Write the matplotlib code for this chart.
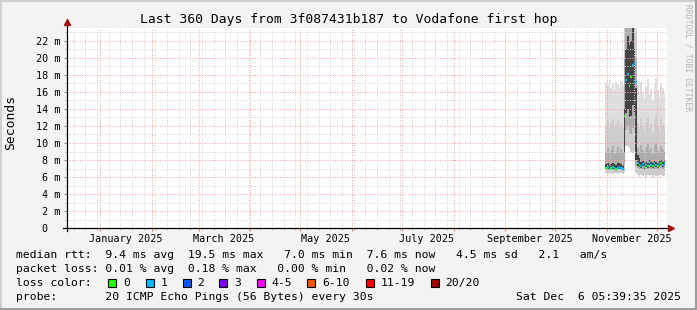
import numpy as np
import matplotlib
matplotlib.use("Agg")
import matplotlib.pyplot as plt
import matplotlib.dates as mdates
from matplotlib.patches import Rectangle
import datetime as dt

W, H = 697, 310

# giorni con dati: dal 31 ottobre al 5 dicembre 2025 (valori in ms)
giorni = np.arange(np.datetime64('2025-10-31'), np.datetime64('2025-12-06'))

mediana = [7.1, 7.2, 7.0, 7.1, 7.2, 7.1, 7.0, 7.1, 7.2, 7.1, 7.0,
           13.2, 17.4, 18.1, 16.7, 17.7, 19.2, 19.4, 17.2,
           7.6, 7.4, 7.3, 7.5, 7.2, 7.4, 7.3, 7.6, 7.4, 7.3, 7.5, 7.4, 7.3, 7.5, 7.6, 7.4, 7.6]
perdite = [0, 1, 1, 0, 1, 1, 0, 1, 1, 1, 1,
           0, 1, 1, 0, 0, 1, 1, 1,
           1, 0, 1, 1, 0, 1, 0, 1, 1, 0, 1, 1, 0, 1, 0, 1, 1]

p_min = [6.5, 6.4, 6.5, 6.5, 6.4, 6.5, 6.5, 6.4, 6.5, 6.5, 6.4,
         6.6, 9.6, 9.7, 9.4, 9.0, 8.8, 9.1, 6.5,
         6.2, 6.0, 6.3, 6.1, 6.2, 6.0, 6.3, 6.1, 6.2, 6.0, 6.2, 6.1, 6.3, 6.0, 6.2, 6.1, 6.2]
p25 = [6.8, 6.9, 6.8, 6.8, 6.9, 6.8, 6.7, 6.8, 6.9, 6.8, 6.7,
       7.5, 11.5, 12.0, 11.2, 11.0, 11.8, 11.4, 7.3,
       7.1, 6.9, 7.0, 7.0, 6.8, 7.0, 6.9, 7.1, 7.0, 6.9, 7.0, 6.9, 6.9, 7.0, 7.1, 7.0, 7.1]
p40 = [7.0, 7.0, 6.9, 7.0, 7.0, 7.0, 6.9, 7.0, 7.0, 7.0, 6.9,
       9.0, 13.5, 14.0, 13.0, 13.2, 14.5, 13.6, 8.0,
       7.3, 7.2, 7.1, 7.3, 7.0, 7.2, 7.1, 7.4, 7.2, 7.1, 7.3, 7.2, 7.1, 7.3, 7.4, 7.2, 7.4]
p60 = [7.5, 7.6, 7.4, 7.5, 7.7, 7.5, 7.4, 7.6, 7.6, 7.5, 7.4,
       14.0, 21.0, 22.5, 21.5, 22.0, 23.5, 21.0, 16.5,
       8.6, 8.2, 7.8, 7.9, 7.6, 7.8, 7.7, 8.0, 7.8, 7.7, 7.9, 7.8, 7.7, 7.9, 8.0, 7.8, 7.9]
p75 = [9.0, 9.4, 8.8, 9.2, 9.6, 8.7, 9.1, 9.5, 9.0, 9.3, 8.9,
       20.0, 24.0, 25.0, 25.0, 25.0, 25.0, 24.0, 20.0,
       9.4, 9.0, 9.8, 9.2, 8.8, 9.5, 9.9, 9.1, 9.4, 8.7, 9.6, 10.0, 9.2, 8.9, 9.7, 9.3, 9.0]
p90 = [12.0, 12.6, 11.7, 12.3, 12.8, 11.5, 12.1, 12.7, 11.9, 12.4, 11.8,
       24.0, 25.0, 25.0, 25.0, 25.0, 25.0, 25.0, 23.0,
       12.3, 11.6, 12.9, 12.0, 11.3, 12.5, 13.1, 11.8, 12.2, 11.2, 12.7, 13.3, 11.9, 11.4, 12.8, 12.1, 11.7]
p_max = [17.2, 16.8, 17.4, 16.5, 17.0, 16.2, 17.1, 16.9, 16.4, 17.3, 16.8,
         25.0, 25.0, 25.0, 25.0, 25.0, 25.0, 25.0, 25.0,
         16.8, 15.5, 17.2, 16.0, 15.2, 16.6, 17.5, 15.8, 16.3, 15.0, 16.9, 17.6, 16.2, 15.4, 17.0, 16.5, 15.8]

colori_perdita = ['#26ff00', '#00b8ff', '#0059ff', '#7e00ff', '#ff00ff', '#ff5500', '#ff0000', '#a10000']
etichette_perdita = ['0', '1', '2', '3', '4-5', '6-10', '11-19', '20/20']

mesi_etichetta = ['January 2025', 'March 2025', 'May 2025', 'July 2025', 'September 2025', 'November 2025']
righe_legenda = [
    "median rtt:  9.4 ms avg  19.5 ms max   7.0 ms min  7.6 ms now   4.5 ms sd   2.1   am/s",
    "packet loss: 0.01 % avg  0.18 % max   0.00 % min   0.02 % now",
    "loss color:",
    "probe:       20 ICMP Echo Pings (56 Bytes) every 30s",
]
data_grafico = "Sat Dec  6 05:39:35 2025"

mono = 'DejaVu Sans Mono'

fig = plt.figure(figsize=(W / 100, H / 100), dpi=100)
fig.patch.set_facecolor('#f3f3f3')

def fx(x):
    return x / W

def fy(y):
    return 1 - y / H

ax = fig.add_axes([fx(67), fy(228.3), 600 / W, 200.3 / H])
ax.set_facecolor('white')

bordi = mdates.date2num(np.append(giorni, giorni[-1] + 1))

# fumo (smoke)
ax.stairs(p_max, bordi, baseline=p_min, fill=True, color='#dedede', zorder=1)
ax.stairs(p90, bordi, baseline=p_min, fill=True, color='#cdcdcd', zorder=1.1)
ax.stairs(p75, bordi, baseline=p25, fill=True, color='#acacac', zorder=1.2)
ax.stairs(p60, bordi, baseline=p40, fill=True, color='#444444', zorder=1.3)

# mediana colorata per perdita
ax.hlines(mediana, bordi[:-1], bordi[1:], colors=[colori_perdita[p] for p in perdite],
          linewidth=1.6, zorder=3)

inizio = dt.datetime(2024, 12, 12)
fine = dt.datetime(2025, 12, 7)
ax.set_xlim(inizio, fine)
ax.set_ylim(0, 23.48)

ax.xaxis.set_major_locator(mdates.MonthLocator())
ax.xaxis.set_minor_locator(mdates.WeekdayLocator(byweekday=mdates.MO))
ax.xaxis.set_major_formatter(plt.NullFormatter())
ax.yaxis.set_minor_locator(plt.MultipleLocator(1))
ax.set_yticks(np.arange(0, 23, 2))
ax.set_yticklabels(['0  '] + ['%d m' % v for v in range(2, 23, 2)], family=mono, fontsize=7.3)

ax.set_axisbelow(False)
ax.grid(which='minor', color='#d4d4d4', linestyle=(0, (1, 1.5)), linewidth=0.72, zorder=2)
ax.grid(which='major', color='#ffa0a0', linestyle=(0, (1, 1.5)), linewidth=0.72, zorder=2.1)

ax.tick_params(axis='x', which='major', direction='out', length=2.5, color='#ff7070', width=0.72)
ax.tick_params(axis='x', which='minor', direction='out', length=1.5, color='#aaaaaa', width=0.72)
ax.tick_params(axis='y', which='major', direction='out', length=2.5, color='#888888', width=0.72, pad=2.5)
ax.tick_params(axis='y', which='minor', direction='out', length=1.5, color='#aaaaaa', width=0.72)

for s in ['top', 'right', 'left', 'bottom']:
    ax.spines[s].set_visible(False)

# assi con frecce
ax.plot([0, 0], [-0.012, 1.025], transform=ax.transAxes, color='black', lw=0.9, clip_on=False, zorder=5)
ax.plot([-0.006, 1.004], [0, 0], transform=ax.transAxes, color='black', lw=0.9, clip_on=False, zorder=5)
ax.plot([0], [1.03], marker='^', markersize=4.5, color='#a01010', transform=ax.transAxes, clip_on=False, zorder=6)
ax.plot([1.007], [0], marker='>', markersize=4.5, color='#a01010', transform=ax.transAxes, clip_on=False, zorder=6)

# etichette dei mesi (centrate a metà mese)
for i, nome in enumerate(mesi_etichetta):
    m = 1 + 2 * i
    ax.text(dt.datetime(2025, m, 16), -0.067, nome, transform=ax.get_xaxis_transform(),
            ha='center', va='baseline', family=mono, fontsize=7.3)

fig.text(0.5, fy(23.3), "Last 360 Days from 3f087431b187 to Vodafone first hop",
         ha='center', va='baseline', family=mono, fontsize=9.4)
fig.text(fx(11), fy(122.5), "Seconds", rotation=90, ha='center', va='center', family=mono, fontsize=9.4)
fig.text(fx(688), fy(58), "RRDTOOL / TOBI OETIKER", rotation=270, ha='center', va='center',
         family=mono, fontsize=5.8, color='#b4b4b4')

basi = [258.3, 272.3, 286.3, 300.3]
for riga, yb in zip(righe_legenda, basi):
    fig.text(fx(16), fy(yb), riga, ha='left', va='baseline', family=mono, fontsize=8.2)
fig.text(fx(681), fy(300.3), data_grafico, ha='right', va='baseline', family=mono, fontsize=8.2)

box_x = [108.3, 145.7, 182.7, 219.3, 256.7, 307.3, 365.7, 431]
for bx, c, lab in zip(box_x, colori_perdita, etichette_perdita):
    fig.add_artist(Rectangle((fx(bx), fy(286.5)), 8 / W, 8 / H, transform=fig.transFigure,
                             facecolor=c, edgecolor='black', lw=0.8))
    fig.text(fx(bx + 14.5), fy(286.3), lab, ha='left', va='baseline', family=mono, fontsize=8.2)

# cornice
fig.add_artist(plt.Line2D([0, 1], [fy(1), fy(1)], transform=fig.transFigure, color='#cfcfcf', lw=1.5))
fig.add_artist(plt.Line2D([fx(1), fx(1)], [0, 1], transform=fig.transFigure, color='#cfcfcf', lw=1.5))
fig.add_artist(plt.Line2D([0, 1], [fy(H - 1), fy(H - 1)], transform=fig.transFigure, color='#9c9c9c', lw=1.5))
fig.add_artist(plt.Line2D([fx(W - 1), fx(W - 1)], [0, 1], transform=fig.transFigure, color='#9c9c9c', lw=1.5))

fig.savefig('out.png', dpi=100, facecolor=fig.get_facecolor())
